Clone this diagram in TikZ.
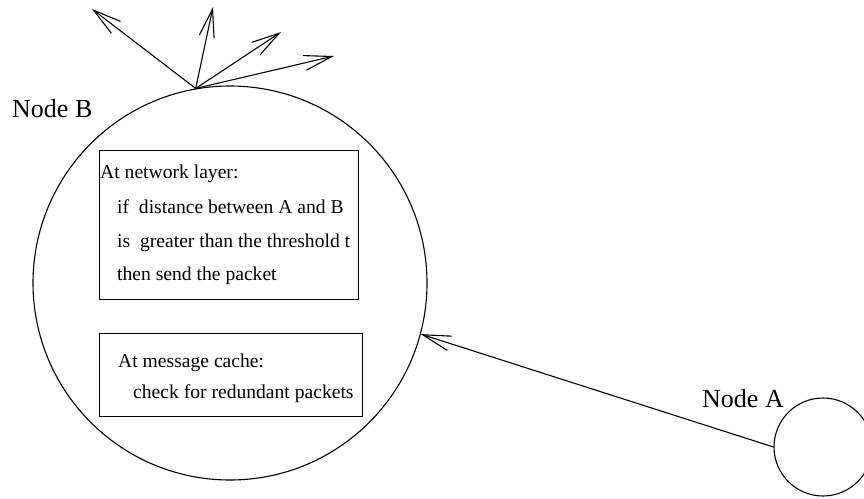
\documentclass[tikz,border=0pt]{standalone}
\usepackage{fontspec}
\setmainfont{Liberation Serif}
\usetikzlibrary{arrows.meta}

\tikzset{
  ln/.style={line width=1.1pt},
  arr/.style={ln, -{Straight Barb[length=28pt,width=15pt,line width=1.1pt]}},
  hostnode/.style={circle, draw, ln, inner sep=0pt},
  infobox/.style={draw, ln, inner sep=0pt},
  boxtext/.style={anchor=base west, inner sep=0pt, font=\fontsize{19.6}{22}\selectfont},
  label/.style={anchor=base west, inner sep=0pt, font=\fontsize{26}{28}\selectfont}
}

\begin{document}
\begin{tikzpicture}[x=1pt, y=-1pt]
  \useasboundingbox (0,0) rectangle (864,498);

  % the two hosts
  \node[hostnode, minimum size=394pt] (B) at (230,283) {};
  \node[hostnode, minimum size=98pt] (A) at (823,447) {};

  \node[label] (labB) at (12,117) {Node B};
  \node[label] (labA) at (702,407) {Node A};

  % network layer rule
  \node[infobox, minimum width=259pt, minimum height=149pt, anchor=north west] (net) at (99,150) {};
  \node[boxtext] (n1) at (100,178) {At network layer:};
  \node[boxtext] (n2) at (117,213) {if\ \ distance between A and B};
  \node[boxtext] (n3) at (117,247) {is\ \ greater than the threshold t};
  \node[boxtext] (n4) at (117,280) {then send the packet};

  % message cache
  \node[infobox, minimum width=263pt, minimum height=83pt, anchor=north west] (cache) at (99,333) {};
  \node[boxtext] (c1) at (118,367) {At message cache:};
  \node[boxtext] (c2) at (133,398) {check for redundant packets};

  % packet from A to B
  \draw[arr] (A.west) -- (B.-15);

  % rebroadcast from B
  \coordinate (src) at (B.100);
  \coordinate (d1) at (92,9);
  \coordinate (d2) at (213,7);
  \coordinate (d3) at (281,32);
  \coordinate (d4) at (334,56);
  \draw[arr] (src) -- (d1);
  \draw[arr] (src) -- (d2);
  \draw[arr] (src) -- (d3);
  \draw[arr] (src) -- (d4);
\end{tikzpicture}
\end{document}
